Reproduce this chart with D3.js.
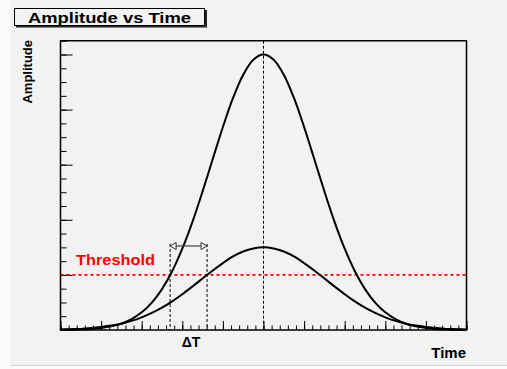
<!DOCTYPE html>
<html>
<head>
<meta charset="utf-8">
<script src="https://cdn.jsdelivr.net/npm/d3@7"></script>
<style>
  html, body { margin: 0; padding: 0; background: #fbfbfb; }
  svg { display: block; }
  text { font-family: "Liberation Sans", Arial, Helvetica, sans-serif; font-weight: bold; }
</style>
</head>
<body>
<svg id="chart" width="507" height="369"></svg>
<script>
// Sample times of the two pulses
const times = [
  0, 0.25, 0.5, 0.75, 1, 1.25, 1.5, 1.75, 2, 2.25,
  2.5, 2.75, 3, 3.25, 3.5, 3.75, 4, 4.25, 4.5, 4.75,
  5, 5.25, 5.5, 5.75, 6, 6.25, 6.5, 6.75, 7, 7.25,
  7.5, 7.75, 8, 8.25, 8.5, 8.75, 9, 9.25, 9.5, 9.75, 10
];

// Large pulse amplitude
const pulseLarge = [
  0.0005, 0.0010, 0.0021, 0.0040, 0.0076, 0.0137, 0.0238, 0.0398, 0.0641, 0.0995,
  0.1485, 0.2133, 0.2950, 0.3927, 0.5033, 0.6207, 0.7370, 0.8423, 0.9265, 0.9811,
  1.0000,
  0.9811, 0.9265, 0.8423, 0.7370, 0.6207, 0.5033, 0.3927, 0.2950, 0.2133, 0.1485,
  0.0995, 0.0641, 0.0398, 0.0238, 0.0137, 0.0076, 0.0040, 0.0021, 0.0010, 0.0005
];

// Small pulse amplitude
const pulseSmall = [
  0.002, 0.003, 0.004, 0.007, 0.011, 0.016, 0.023, 0.033, 0.046, 0.062,
  0.081, 0.104, 0.130, 0.158, 0.187, 0.216, 0.243, 0.267, 0.285, 0.296,
  0.300,
  0.296, 0.285, 0.267, 0.243, 0.216, 0.187, 0.158, 0.130, 0.104, 0.081,
  0.062, 0.046, 0.033, 0.023, 0.016, 0.011, 0.007, 0.004, 0.003, 0.002
];

const thresholdLevel = 0.2;
const peakTime = 5;
const crossingTimes = [2.70, 3.61];   // threshold crossings of large / small pulse
const arrowLevel = 0.305;
const xDomain = [0, 10];
const yDomain = [0, 1.05];
const xMajorStep = 1, xMinorStep = 0.2;
const yMajorStep = 0.2, yMinorStep = 0.05;

const titleText = "Amplitude vs Time";
const xTitle = "Time";
const yTitle = "Amplitude";
const thresholdText = "Threshold";
const deltaText = "\u0394T";

const svg = d3.select("#chart");

// canvas pad
svg.append("rect").attr("x", 10).attr("y", 0).attr("width", 497).attr("height", 365)
  .attr("fill", "#f2f2f2");
svg.append("line").attr("x1", 10).attr("x2", 507).attr("y1", 365.5).attr("y2", 365.5)
  .attr("stroke", "#d4d4d4").attr("stroke-width", 1);

const frame = { left: 60.5, right: 466.5, top: 40.75, bottom: 330 };

const x = d3.scaleLinear().domain(xDomain).range([frame.left, frame.right]);
const y = d3.scaleLinear().domain(yDomain).range([frame.bottom, frame.top]);

const xMajor = d3.range(xDomain[0], xDomain[1] + 1e-9, xMajorStep);
const xMinor = d3.range(xDomain[0], xDomain[1] + 1e-9, xMinorStep);
const yMajor = d3.range(yDomain[0], yDomain[1] + 1e-9, yMajorStep);
const yMinor = d3.range(yDomain[0], yDomain[1] + 1e-9, yMinorStep);

// ticks pointing into the frame
function tickAxis(axis, values, size, transform) {
  const g = svg.append("g").attr("transform", transform)
    .call(axis.tickValues(values).tickSize(-size).tickFormat(""));
  g.select(".domain").remove();
  g.selectAll(".tick line").attr("stroke", "#000").attr("stroke-width", 1);
  return g;
}
tickAxis(d3.axisBottom(x), xMinor, 4.5, `translate(0,${frame.bottom})`);
tickAxis(d3.axisBottom(x), xMajor, 9, `translate(0,${frame.bottom})`);
tickAxis(d3.axisLeft(y), yMinor, 6, `translate(${frame.left},0)`);
tickAxis(d3.axisLeft(y), yMajor, 12, `translate(${frame.left},0)`);

// threshold line
svg.append("line")
  .attr("x1", frame.left).attr("x2", frame.right)
  .attr("y1", y(thresholdLevel)).attr("y2", y(thresholdLevel))
  .attr("stroke", "#ff0000").attr("stroke-width", 1.6)
  .attr("stroke-dasharray", "3,3");

// peak marker
svg.append("line")
  .attr("x1", x(peakTime)).attr("x2", x(peakTime))
  .attr("y1", frame.top).attr("y2", frame.bottom)
  .attr("stroke", "#000").attr("stroke-width", 1)
  .attr("stroke-dasharray", "3,2");

// crossing markers
svg.selectAll("line.cross").data(crossingTimes).enter().append("line")
  .attr("class", "cross")
  .attr("x1", d => x(d)).attr("x2", d => x(d))
  .attr("y1", y(arrowLevel) - 2).attr("y2", frame.bottom)
  .attr("stroke", "#000").attr("stroke-width", 1)
  .attr("stroke-dasharray", "3,2");

// pulses
const line = d3.line()
  .x((d, i) => x(times[i]))
  .y(d => y(d))
  .curve(d3.curveCatmullRom);

[pulseSmall, pulseLarge].forEach(s => {
  svg.append("path").datum(s)
    .attr("d", line)
    .attr("fill", "none")
    .attr("stroke", "#000")
    .attr("stroke-width", 2)
    .attr("stroke-linejoin", "round");
});

// delta-T arrow
const ay = y(arrowLevel);
const ax0 = x(crossingTimes[0]), ax1 = x(crossingTimes[1]);
svg.append("line").attr("x1", ax0 + 5).attr("x2", ax1 - 5)
  .attr("y1", ay).attr("y2", ay)
  .attr("stroke", "#444").attr("stroke-width", 1.2);
svg.append("path")
  .attr("d", `M${ax0},${ay} L${ax0 + 6},${ay - 3.5} L${ax0 + 6},${ay + 3.5} Z`)
  .attr("fill", "#f2f2f2").attr("stroke", "#333").attr("stroke-width", 1);
svg.append("path")
  .attr("d", `M${ax1},${ay} L${ax1 - 6},${ay - 3.5} L${ax1 - 6},${ay + 3.5} Z`)
  .attr("fill", "#f2f2f2").attr("stroke", "#333").attr("stroke-width", 1);

// frame
svg.append("rect")
  .attr("x", frame.left).attr("y", frame.top)
  .attr("width", frame.right - frame.left).attr("height", frame.bottom - frame.top)
  .attr("fill", "none").attr("stroke", "#000").attr("stroke-width", 1.5);

// title box with shadow
svg.append("rect").attr("x", 16).attr("y", 10).attr("width", 191).attr("height", 17.5)
  .attr("fill", "#222");
svg.append("rect").attr("x", 14.5).attr("y", 8.5).attr("width", 190).attr("height", 17)
  .attr("fill", "#f2f2f2").attr("stroke", "#000").attr("stroke-width", 1);
svg.append("text").attr("x", 109.5).attr("y", 22.8)
  .attr("text-anchor", "middle").attr("font-size", 15.5)
  .attr("textLength", 163).attr("lengthAdjust", "spacingAndGlyphs")
  .text(titleText);

// axis titles
svg.append("text")
  .attr("transform", "translate(32,40) rotate(-90)")
  .attr("text-anchor", "end").attr("font-size", 13)
  .text(yTitle);
svg.append("text").attr("x", 466).attr("y", 358)
  .attr("text-anchor", "end").attr("font-size", 15)
  .text(xTitle);

// annotations
svg.append("text").attr("x", 76).attr("y", 265)
  .attr("fill", "#ff0000").attr("font-size", 15.5)
  .attr("textLength", 79).attr("lengthAdjust", "spacingAndGlyphs")
  .text(thresholdText);
svg.append("text").attr("x", 191).attr("y", 346.5)
  .attr("text-anchor", "middle").attr("font-size", 14)
  .text(deltaText);
</script>
</body>
</html>
